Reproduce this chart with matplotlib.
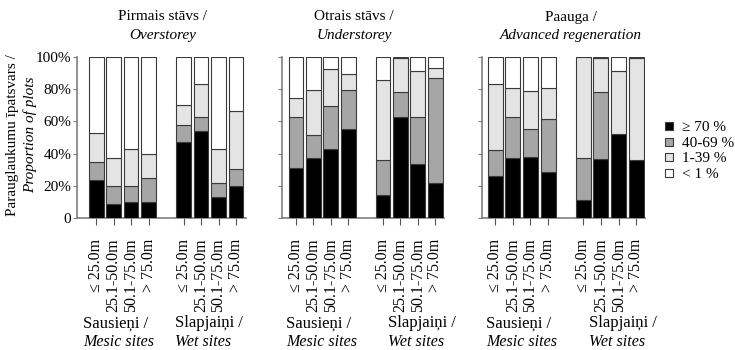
import matplotlib.pyplot as plt
from matplotlib.patches import Rectangle

plt.rcParams['font.family'] = ['Liberation Serif', 'DejaVu Serif']

# bar positions: two site groups of four distance classes, one empty slot between
positions = [0, 1, 2, 3, 5, 6, 7, 8]
distance_labels = ['≤ 25.0m', '25.1-50.0m', '50.1-75.0m', '> 75.0m'] * 2
class_labels = ['≥ 70 %', '40-69 %', '1-39 %', '< 1 %']
class_colors = ['#000000', '#a6a6a6', '#e4e4e4', '#ffffff']

panel_titles = [('Pirmais stāvs /', 'Overstorey'),
                ('Otrais stāvs /', 'Understorey'),
                ('Paauga /', 'Advanced regeneration')]
site_labels = [('Sausieņi /', 'Mesic sites'), ('Slapjaiņi /', 'Wet sites')]

# share of plots (%) per class, first storey
over_70 = [23.5, 8.5, 10, 10, 47, 54, 13, 20]
over_40 = [11.5, 11.5, 10, 15, 11, 9, 9, 10.5]
over_1 = [17.5, 17.5, 23, 15, 12, 20, 21, 36]
over_0 = [47.5, 62.5, 57, 60, 30, 17, 57, 33.5]

# second storey
under_70 = [31, 37, 43, 55, 14.5, 62.5, 33.5, 22]
under_40 = [31.5, 14.5, 26.5, 24.5, 21.5, 15.5, 29, 65]
under_1 = [12, 28, 23, 10, 49.5, 21.5, 28.5, 6]
under_0 = [25.5, 20.5, 7.5, 10.5, 14.5, 0.5, 9, 7]

# advanced regeneration
regen_70 = [26, 37.5, 38, 28.5, 11, 36.5, 52, 36]
regen_40 = [16, 25, 17, 33, 26, 41.5, 0, 0]
regen_1 = [41.5, 18.5, 24, 19, 63, 21.5, 39, 63.5]
regen_0 = [16.5, 19, 21, 19.5, 0, 0.5, 9, 0.5]

panels = [[over_70, over_40, over_1, over_0],
          [under_70, under_40, under_1, under_0],
          [regen_70, regen_40, regen_1, regen_0]]

W, H = 735, 350
fig = plt.figure(figsize=(7.35, 3.5), dpi=100)

# axes boxes in pixels: left, right, x-limits
boxes = [(77, 246, (-1.09, 8.57)),
         (282, 444, (-0.8, 8.5)),
         (482, 645, (-0.75, 8.5))]
title_x = [163, 354, 571]
group_x = [(83, 175), (286, 388), (486, 589)]
top, bottom = 57, 218
spine_col = '#7f7f7f'

for k, (left, right, xlim) in enumerate(boxes):
    ax = fig.add_axes([left / W, (H - bottom) / H, (right - left) / W, (bottom - top) / H])
    base = [0] * len(positions)
    for vals, col in zip(panels[k], class_colors):
        ax.bar(positions, vals, width=0.85, bottom=base, color=col,
               edgecolor='#3a3a3a', linewidth=0.8, zorder=3)
        base = [b + v for b, v in zip(base, vals)]
    ax.set_xlim(*xlim)
    ax.set_ylim(0, 100)
    for s in ['top', 'right']:
        ax.spines[s].set_visible(False)
    for s in ['left', 'bottom']:
        ax.spines[s].set_color(spine_col)
        ax.spines[s].set_linewidth(1.2)
    ax.set_yticks([0, 20, 40, 60, 80, 100])
    ax.tick_params(axis='y', length=3, color=spine_col, pad=1)
    if k == 0:
        ax.set_yticklabels(['0', '20%', '40%', '60%', '80%', '100%'], fontsize=11)
    else:
        ax.set_yticklabels([])
    ax.set_xticks(positions)
    ax.set_xticklabels(distance_labels, rotation=90, fontsize=11.5, va='top')
    ax.tick_params(axis='x', length=5, color='#555555', pad=10)

    # panel title, two lines
    t1, t2 = panel_titles[k]
    fig.text(title_x[k] / W, 1 - 17 / H, t1, ha='center', va='center', fontsize=11)
    fig.text(title_x[k] / W, 1 - 35 / H, t2, ha='center', va='center', fontsize=11,
             style='italic')

    # site group labels under the tick labels
    for gx, (g1, g2) in zip(group_x[k], site_labels):
        fig.text(gx / W, 1 - 323 / H, g1, ha='left', va='center', fontsize=12)
        fig.text(gx / W, 1 - 342 / H, g2, ha='left', va='center', fontsize=11.5,
                 style='italic')

# y axis title
fig.text(13 / W, 0.5 + 0.115, 'Parauglaukumu īpatsvars /', rotation=90,
         ha='center', va='center', fontsize=11)
fig.text(30 / W, 0.5 + 0.115, 'Proportion of plots', rotation=90,
         ha='center', va='center', fontsize=11, style='italic')

# legend
for i, (lab, col) in enumerate(zip(class_labels, class_colors)):
    y = 1 - (126 + i * 15.5) / H
    fig.patches.append(Rectangle((665 / W, y - 4 / H), 8 / W, 8 / H,
                                 transform=fig.transFigure, facecolor=col,
                                 edgecolor='#3a3a3a', linewidth=0.8))
    fig.text(682 / W, y - 2 / H, lab, ha='left', va='center', fontsize=11)

fig.savefig('out.png', dpi=100)
